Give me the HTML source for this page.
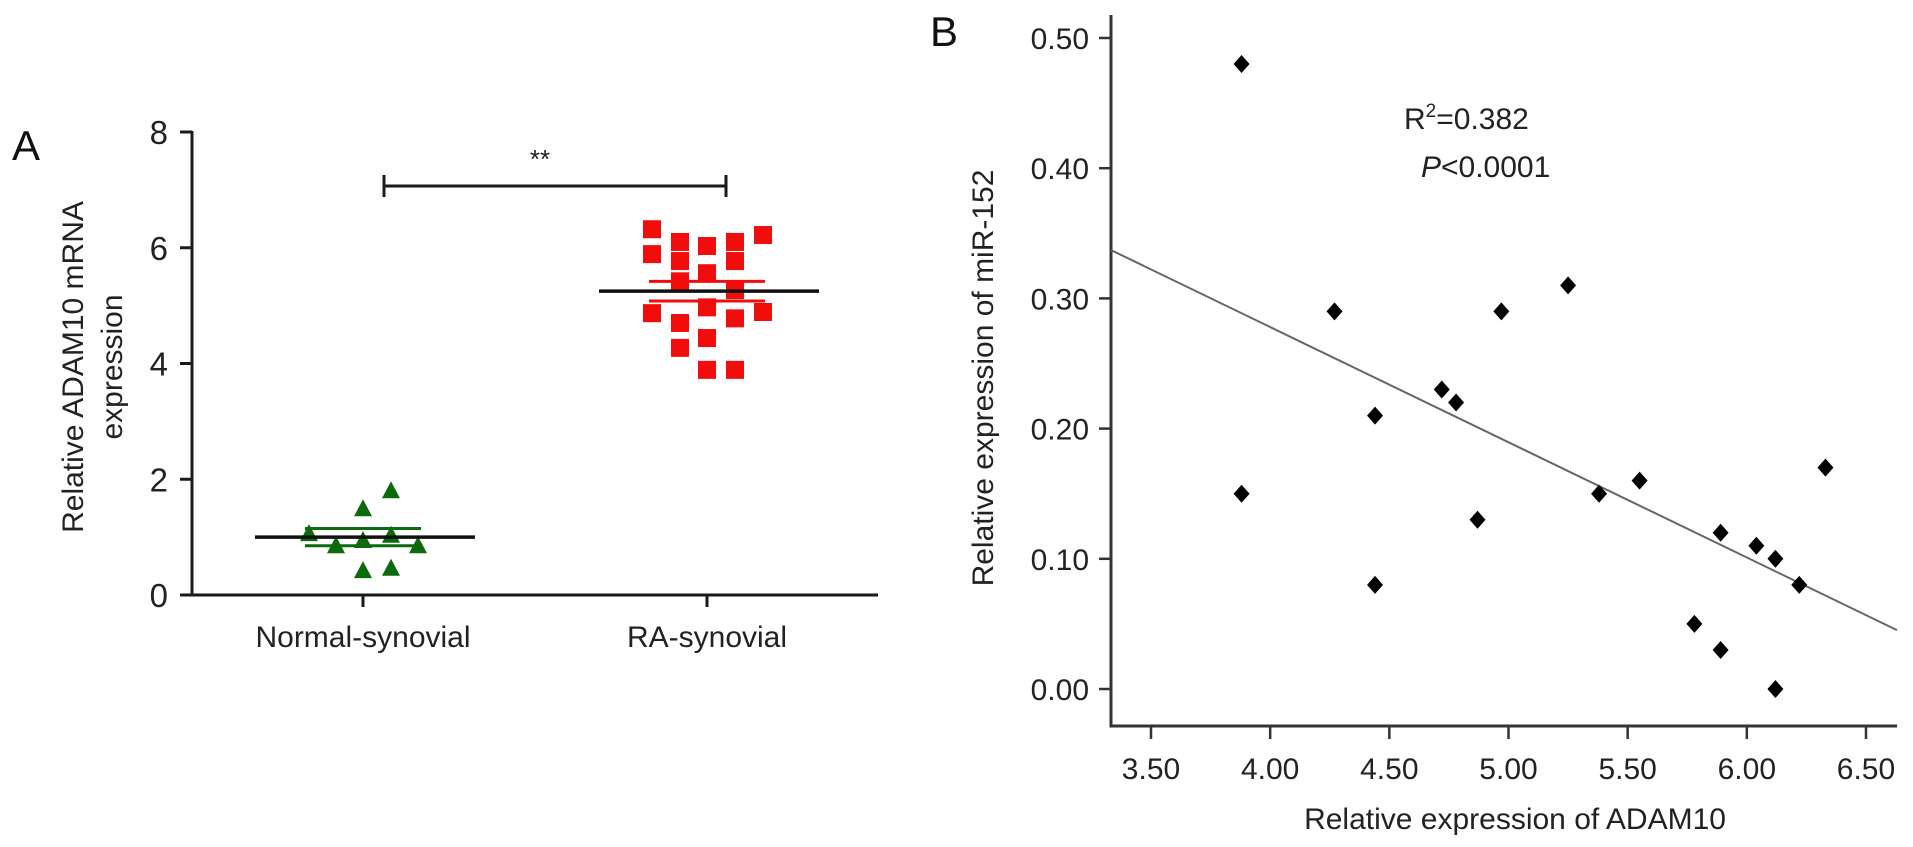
<!DOCTYPE html>
<html><head><meta charset="utf-8"><style>
html,body{margin:0;padding:0;background:#fff;}
svg{display:block;font-family:"Liberation Sans",Arial,sans-serif;}
</style></head><body>
<svg id="fig" width="1913" height="847" viewBox="0 0 1913 847" xmlns="http://www.w3.org/2000/svg"></svg>
<script>
// Panel A data
const groupsA = ["Normal-synovial", "RA-synovial"];
const normalVals = [1.07, 0.86, 1.50, 0.95, 1.81, 1.04, 0.86, 0.43, 0.47];
const normalOffsets = [-54, -27, 0, 0, 28, 28, 55, 0, 28];
const raVals = [6.32, 5.89, 4.87, 6.10, 5.77, 5.42, 4.70, 4.27, 6.03, 5.56, 4.97, 4.44, 3.89, 6.10, 5.77, 5.27, 4.78, 3.89, 6.22, 4.89];
const raOffsets = [-55,-55,-55,-27,-27,-27,-27,-27,0,0,0,0,0,28,28,28,28,28,56,56];
const meansA = [1.00, 5.25];
const semA = [0.15, 0.17];
const yTicksA = [0, 2, 4, 6, 8];
// Panel B data
const adam10 = [3.88, 3.88, 4.27, 4.44, 4.44, 4.72, 4.78, 4.87, 4.97, 5.25, 5.38, 5.55, 5.78, 5.89, 5.89, 6.04, 6.12, 6.12, 6.22, 6.33];
const mir152 = [0.48, 0.15, 0.29, 0.21, 0.08, 0.23, 0.22, 0.13, 0.29, 0.31, 0.15, 0.16, 0.05, 0.12, 0.03, 0.11, 0.10, 0.00, 0.08, 0.17];
const fitCoef = [0.632, -0.0885];
const xTicksB = [3.5, 4.0, 4.5, 5.0, 5.5, 6.0, 6.5];
const yTicksB = [0, 0.1, 0.2, 0.3, 0.4, 0.5];

const NS = "http://www.w3.org/2000/svg";
const svg = document.getElementById("fig");
function mk(tag, attrs, parent, text){
  const e = document.createElementNS(NS, tag);
  for (const k in attrs) e.setAttribute(k, attrs[k]);
  if (text !== undefined) e.textContent = text;
  (parent || svg).appendChild(e);
  return e;
}
const yA = v => 595 - v * 57.875;
const xA = i => [363, 707][i];
const xB = v => 1151 + (v - 3.5) * 238.33;
const yB = v => 689 - v * 1302;

// ---------- Panel A ----------
const gA = mk("g", {});


let t = mk("text", {x: 12, y: 160, "font-size": 42, fill: "#111"}, gA, "A");


let ax = mk("path", {d: "M192 131 L192 595 L878 595", stroke: "#1a1a1a", "stroke-width": 3, fill: "none"}, gA);


yTicksA.forEach(v => {
  const tk = mk("line", {x1: 180, x2: 192, y1: yA(v), y2: yA(v), stroke: "#1a1a1a", "stroke-width": 3}, gA);
  
  
  const tl = mk("text", {x: 168, y: yA(v) + 12, "font-size": 33, "text-anchor": "end", fill: "#222"}, gA, String(v));
  
  
});
groupsA.forEach((g, i) => {
  const tk = mk("line", {x1: xA(i), x2: xA(i), y1: 595, y2: 607, stroke: "#1a1a1a", "stroke-width": 3}, gA);
  
  
  const tl = mk("text", {x: xA(i), y: 647, "font-size": 30, "text-anchor": "middle", fill: "#222"}, gA, g);
  
  
});
let yt = mk("text", {transform: "translate(83 367) rotate(-90)", "font-size": 30, "text-anchor": "middle", fill: "#222"}, gA, "Relative ADAM10 mRNA");


let yt2 = mk("text", {transform: "translate(122 367) rotate(-90)", "font-size": 30, "text-anchor": "middle", fill: "#222"}, gA, "expression");


let sb = mk("path", {d: "M384 175 L384 197 M384 186 L726 186 M726 175 L726 197", stroke: "#1a1a1a", "stroke-width": 3, fill: "none"}, gA);


let st = mk("text", {x: 540, y: 168, "font-size": 26, "text-anchor": "middle", fill: "#222"}, gA, "**");


normalVals.forEach((v, i) => {
  const cx = xA(0) + normalOffsets[i], cy = yA(v);
  const p = mk("polygon", {points: `${cx},${cy-9} ${cx-9},${cy+8} ${cx+9},${cy+8}`, fill: "#0b6a0b"}, gA);
  
  
});
raVals.forEach((v, i) => {
  const cx = xA(1) + raOffsets[i], cy = yA(v);
  const p = mk("rect", {x: cx - 9, y: cy - 9, width: 18, height: 18, fill: "#f20d0d"}, gA);
  
  
});
const semCol = ["#0b6a0b", "#f20d0d"];
meansA.forEach((m, i) => {
  [m + semA[i], m - semA[i]].forEach(v => {
    const l = mk("line", {x1: xA(i) - 58, x2: xA(i) + 58, y1: yA(v), y2: yA(v), stroke: semCol[i], "stroke-width": 3}, gA);
    
    
  });
  const l = mk("line", {x1: xA(i) - 108, x2: xA(i) + 112, y1: yA(m), y2: yA(m), stroke: "#111", "stroke-width": 3.5}, gA);
  
  
});

// ---------- Panel B ----------
const gB = mk("g", {});


t = mk("text", {x: 930, y: 46, "font-size": 42, fill: "#111"}, gB, "B");


ax = mk("path", {d: "M1111 15 L1111 726 L1897 726", stroke: "#333", "stroke-width": 3, fill: "none"}, gB);


yTicksB.forEach(v => {
  const tk = mk("line", {x1: 1099, x2: 1111, y1: yB(v), y2: yB(v), stroke: "#333", "stroke-width": 2.5}, gB);
  
  
  const tl = mk("text", {x: 1089, y: yB(v) + 11, "font-size": 30, "text-anchor": "end", fill: "#222"}, gB, v.toFixed(2));
  
  
});
xTicksB.forEach(v => {
  const tk = mk("line", {x1: xB(v), x2: xB(v), y1: 726, y2: 739, stroke: "#333", "stroke-width": 2.5}, gB);
  
  
  const tl = mk("text", {x: xB(v), y: 779, "font-size": 30, "text-anchor": "middle", fill: "#222"}, gB, v.toFixed(2));
  
  
});
let xtB = mk("text", {x: 1515, y: 829, "font-size": 30, "text-anchor": "middle", fill: "#222"}, gB, "Relative expression of ADAM10");


let ytB = mk("text", {transform: "translate(993 378) rotate(-90)", "font-size": 30, "text-anchor": "middle", fill: "#222"}, gB, "Relative expression of miR-152");


const x0 = 3.333, x1 = 6.63;
let rl = mk("line", {x1: xB(x0), y1: yB(fitCoef[0] + fitCoef[1] * x0), x2: xB(x1), y2: yB(fitCoef[0] + fitCoef[1] * x1), stroke: "#666", "stroke-width": 2}, gB);


adam10.forEach((xv, i) => {
  const cx = xB(xv), cy = yB(mir152[i]);
  const p = mk("polygon", {points: `${cx},${cy-9} ${cx+8},${cy} ${cx},${cy+9} ${cx-8},${cy}`, fill: "#000"}, gB);
  
  
});
let r2 = mk("text", {x: 1404, y: 129, "font-size": 30, fill: "#222"}, gB);


mk("tspan", {}, r2, "R");
mk("tspan", {dy: -12, "font-size": 19}, r2, "2");
mk("tspan", {dy: 12}, r2, "=0.382");
let pv = mk("text", {x: 1421, y: 177, "font-size": 30, fill: "#222"}, gB);


mk("tspan", {"font-style": "italic"}, pv, "P");
mk("tspan", {}, pv, "<0.0001");
</script>
</body></html>
